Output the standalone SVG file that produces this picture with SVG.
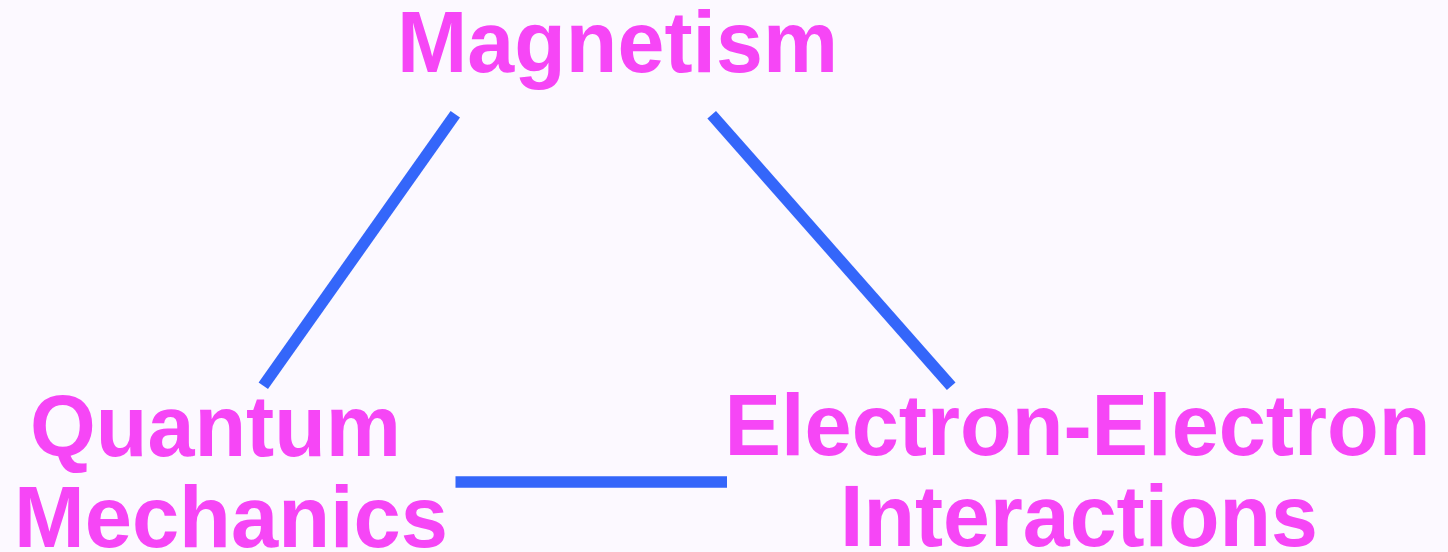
<svg xmlns="http://www.w3.org/2000/svg" width="1448" height="552" viewBox="0 0 1448 552">
<style>
.lbl{font-family:"Liberation Sans",Arial,sans-serif;font-weight:bold;font-size:88px;fill:#F646F6;text-anchor:middle}
.edge{stroke:#3466FA;stroke-width:11.5;stroke-linecap:butt;fill:none}
</style>
<rect width="1448" height="552" fill="#FCF9FF"/>
<g id="connectors">
<line class="edge" x1="455.3" y1="114.2" x2="263.3" y2="385.8"/>
<line class="edge" x1="711.7" y1="114.7" x2="951.2" y2="386.3"/>
<line class="edge" x1="455.5" y1="482" x2="727" y2="482"/>
</g>
<g id="magnetism">
<text class="lbl" x="617.5" y="72" textLength="441" lengthAdjust="spacingAndGlyphs">Magnetism</text>
</g>
<g id="quantum-mechanics">
<text class="lbl" x="215.5" y="456" textLength="371" lengthAdjust="spacingAndGlyphs">Quantum</text>
<text class="lbl" x="231" y="547" textLength="434" lengthAdjust="spacingAndGlyphs">Mechanics</text>
</g>
<g id="electron-electron-interactions">
<text class="lbl" x="1077.5" y="455" textLength="706" lengthAdjust="spacingAndGlyphs">Electron-Electron</text>
<text class="lbl" x="1079" y="546" textLength="478" lengthAdjust="spacingAndGlyphs">Interactions</text>
</g>
</svg>
